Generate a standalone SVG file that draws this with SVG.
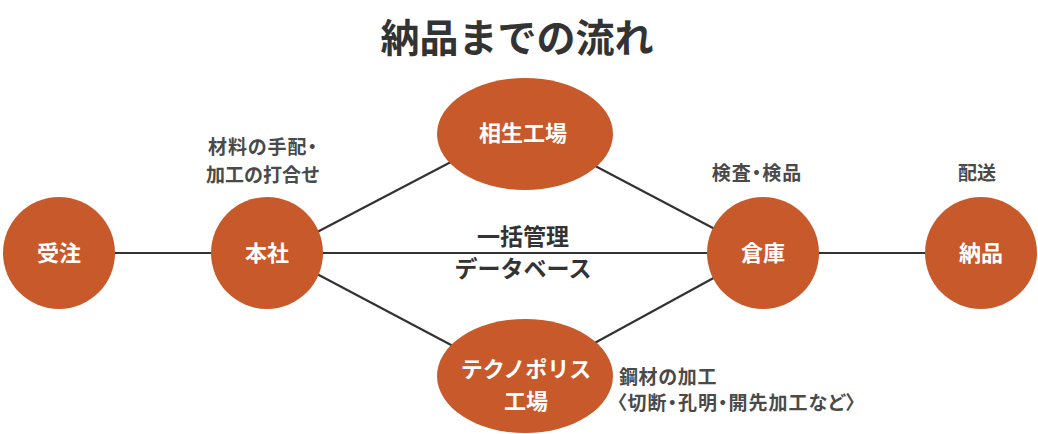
<svg xmlns="http://www.w3.org/2000/svg" width="1038" height="434" viewBox="0 0 1038 434">
<style>
text{font-family:"Noto Sans CJK JP","Noto Sans",sans-serif;font-weight:bold;}
.node{fill:#C8592A;}
.nl{fill:#fff;font-size:22px;text-anchor:middle;}
.side{fill:#4a4a4a;font-size:19px;text-anchor:middle;}
.mat{fill:#4a4a4a;font-size:19px;letter-spacing:0.6px;}
.palt{font-feature-settings:"palt";letter-spacing:1px;}
.edge{stroke:#333;stroke-width:2.2;fill:none;}
.title{fill:#333;font-size:39px;text-anchor:middle;}
.db{fill:#333;font-size:23px;text-anchor:middle;}
</style>
<rect width="1038" height="434" fill="#fff"/>
<text class="title" x="517" y="52">納品までの流れ</text>
<g id="connectors">
<line class="edge" x1="59" y1="253" x2="267" y2="253"/>
<line class="edge" x1="267" y1="253" x2="763" y2="253"/>
<line class="edge" x1="763" y1="253" x2="981" y2="253"/>
<line class="edge" x1="300" y1="241" x2="470" y2="152"/>
<line class="edge" x1="580" y1="158" x2="730" y2="237"/>
<line class="edge" x1="300" y1="265" x2="470" y2="355"/>
<line class="edge" x1="580" y1="351" x2="730" y2="269"/>
</g>
<g id="label-db">
<text class="db" x="523" y="245">一括管理</text>
<text class="db" x="523" y="277">データベース</text>
</g>
<g id="node-juchu">
<circle class="node" cx="59" cy="253" r="56"/>
<text class="nl" x="59" y="261">受注</text>
</g>
<g id="node-honsha">
<circle class="node" cx="267" cy="253" r="56"/>
<text class="nl" x="267" y="261">本社</text>
<text class="side palt" x="263" y="154">材料の手配・</text>
<text class="side" x="263" y="182">加工の打合せ</text>
</g>
<g id="node-aioi">
<ellipse class="node" cx="525" cy="134" rx="88" ry="56"/>
<text class="nl" x="523" y="141">相生工場</text>
</g>
<g id="node-techno">
<ellipse class="node" cx="525" cy="376" rx="88" ry="57"/>
<text class="nl" x="526" y="377">テクノポリス</text>
<text class="nl" x="526" y="409">工場</text>
<text class="mat" x="619" y="384">鋼材の加工</text>
<text class="mat palt" x="617" y="410">〈切断・孔明・開先加工など〉</text>
</g>
<g id="node-souko">
<circle class="node" cx="763" cy="253" r="56"/>
<text class="nl" x="763" y="261">倉庫</text>
<text class="side palt" x="757" y="180">検査・検品</text>
</g>
<g id="node-nouhin">
<circle class="node" cx="981" cy="253" r="56"/>
<text class="nl" x="981" y="261">納品</text>
<text class="side" x="977" y="180">配送</text>
</g>
</svg>
